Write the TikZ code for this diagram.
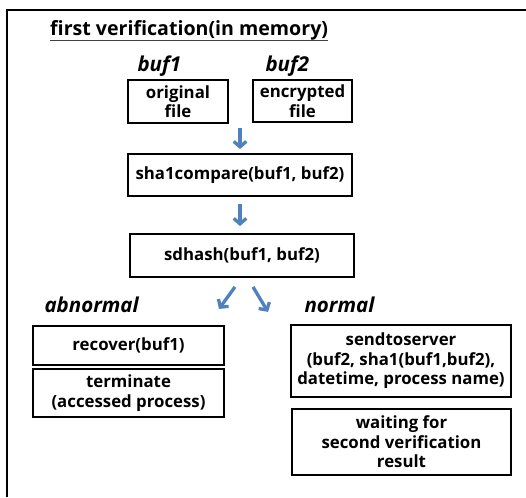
\documentclass[tikz,border=0pt]{standalone}
\usepackage{fontspec}
\setmainfont{Open Sans}
\usetikzlibrary{arrows.meta}
\definecolor{arrowblue}{RGB}{79,129,189}
\begin{document}
\begin{tikzpicture}[x=1pt,y=-1pt,
  box/.style={draw, line width=1.8pt, align=center, inner sep=0pt,
    font=\bfseries\fontsize{16.8}{19.5}\selectfont},
  tag/.style={anchor=base west, font=\bfseries\itshape\fontsize{20.5}{22}\selectfont},
  flow/.style={draw=arrowblue, line width=3.3pt,
    -{Straight Barb[length=5.5pt,width=12.5pt,line width=3.3pt]}}]
\useasboundingbox (0,0) rectangle (526,497);
\fill[white] (0,0) rectangle (526,497);
% outer frame
\draw[line width=1.6pt] (7,497) -- (7,10) -- (526,10);

% title
\node[anchor=base west, inner sep=0pt, font=\bfseries\fontsize{19.6}{22}\selectfont] (title) at (50,36) {first verification(in memory)};
\draw[line width=1.3pt, black!75] ([yshift=-4.5pt]title.base west) -- ([yshift=-4.5pt]title.base east);

% buffers
\node[tag] (b1lbl) at (134,72) {buf1};
\node[tag] (b2lbl) at (262,72) {buf2};
\node[box, minimum width=100pt, minimum height=43pt] (orig) at (178,101.5) {original\\file};
\node[box, minimum width=99pt, minimum height=42pt] (enc) at (302.5,101) {encrypted\\file};

% checks
\node[box, minimum width=224pt, minimum height=42pt] (sha) at (240,175) {sha1compare(buf1, buf2)};
\node[box, minimum width=224pt, minimum height=43pt] (sd) at (242,255.5) {sdhash(buf1, buf2)};

\draw[flow] ([yshift=-4pt]orig.south -| sha.north) -- ([yshift=4pt]sha.north);
\draw[flow] ([yshift=-7pt]sha.south) -- ([yshift=7pt]sha.south |- sd.north);

% branches
\draw[flow] ([shift={(-7,9)}]sd.south) -- ([shift={(-23,31)}]sd.south);
\draw[flow] ([shift={(11,9)}]sd.south) -- ([shift={(26,34)}]sd.south);

\node[tag] (ablbl) at (41,312) {abnormal};
\node[tag] (nlbl) at (301,312) {normal};

\node[box, minimum width=191pt, minimum height=39pt] (rec) at (128.5,345.5) {recover(buf1)};
\node[box, minimum width=191pt, minimum height=48pt] (term) at (128.5,393) {terminate\\(accessed process)};

\node[box, minimum width=220pt, minimum height=72pt] (send) at (401,361) {sendtoserver\\(buf2, sha1(buf1,buf2),\\datetime, process name)};
\node[box, minimum width=219pt, minimum height=66pt] (wait) at (401.5,442) {waiting for\\second verification\\result};
\end{tikzpicture}
\end{document}
